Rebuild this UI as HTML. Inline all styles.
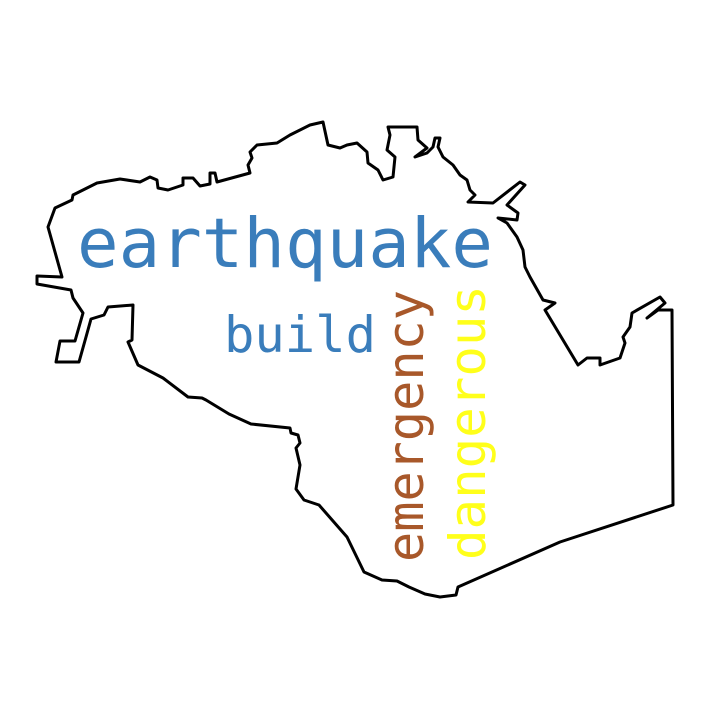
<!DOCTYPE html>
<html><head><meta charset="utf-8"><style>html,body{margin:0;padding:0;background:#fff}svg{display:block}</style></head>
<body>
<svg width="720" height="720" viewBox="0 0 720 720" xmlns="http://www.w3.org/2000/svg">
<rect width="720" height="720" fill="#fff"/>
<polygon fill="none" stroke="#000" stroke-width="3" stroke-linejoin="round"
points="37,276 62,277 48,227 55,208 72,200 73,195 97,183 120,179 140,182 150,177 157,180 158,188 168,190 183,185 183,178 193,178 200,186 210,184 210,173 215,173 217,182 250,173 248,165 252,158 250,152 257,145 277,143 290,135 310,125 323,122 328,145 340,148 347,145 357,143 367,152 368,163 378,170 383,180 393,177 395,157 387,150 390,135 388,127 417,127 418,140 427,148 415,157 427,153 433,147 435,138 440,138 438,147 443,157 453,165 460,175 467,180 470,190 475,195 468,202 493,203 520,182 525,185 507,205 518,213 517,220 498,218 507,223 517,237 523,250 525,267 530,277 543,300 555,303 545,310 578,365 587,358 600,358 600,365 620,358 625,343 623,337 630,327 632,313 660,297 665,303 647,318 658,310 672,310 673,505 560,542 458,587 456,595 440,597 425,594 409,587 397,581 382,580 364,572 347,537 319,505 304,500 296,489 300,465 296,448 300,443 298,435 291,433 290,428 251,424 229,414 206,400 202,398 188,397 163,378 138,365 128,342 132,340 133,305 108,307 104,315 91,319 86,337 79,362 56,362 60,341 75,341 83,313 73,298 71,290 37,284"/>
<g font-family="DejaVu Sans Mono, Liberation Mono, monospace">
<text x="77" y="267" font-size="69" fill="#3a7dbb" textLength="416" lengthAdjust="spacingAndGlyphs">earthquake</text>
<text x="224" y="352" font-size="50" fill="#3a7dbb" textLength="152" lengthAdjust="spacingAndGlyphs">build</text>
<text transform="translate(423,562) rotate(-90)" font-size="50" fill="#a8582a" textLength="272" lengthAdjust="spacingAndGlyphs">emergency</text>
<text transform="translate(485,560) rotate(-90)" font-size="50" fill="#ffff1a" textLength="275" lengthAdjust="spacingAndGlyphs">dangerous</text>
</g>
</svg>
</body></html>
